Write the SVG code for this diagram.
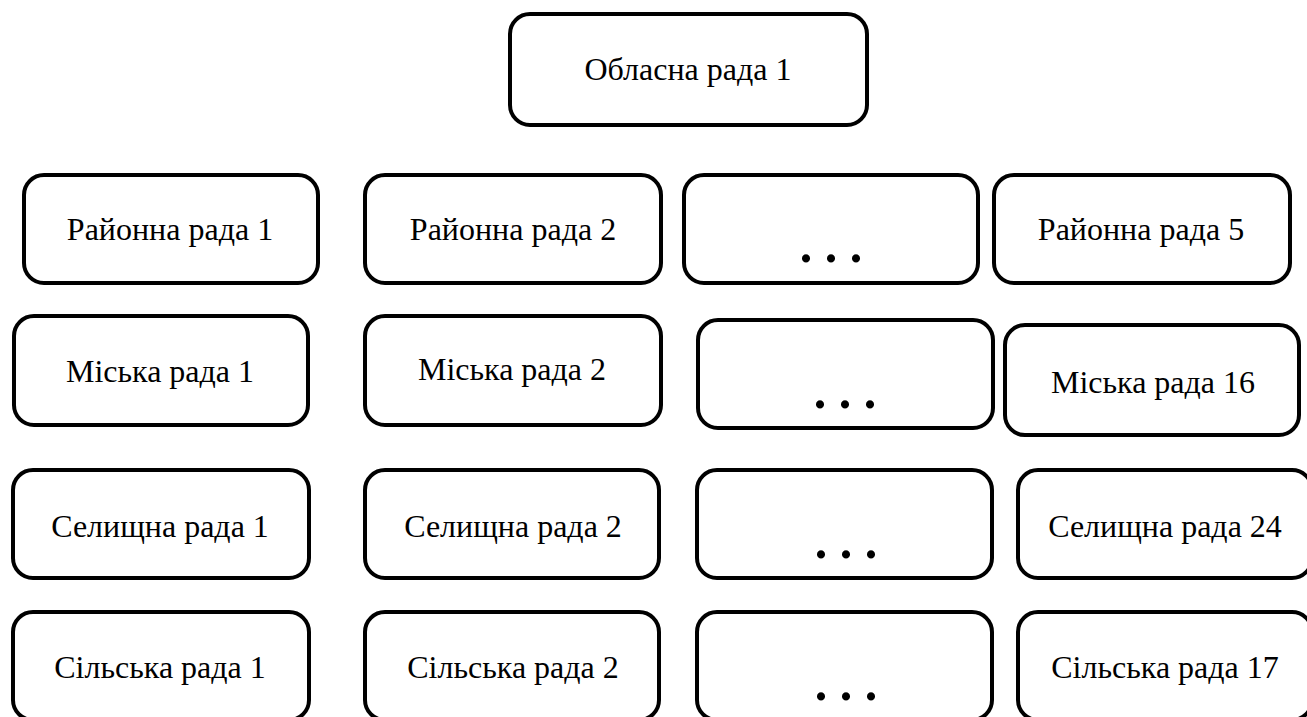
<svg xmlns="http://www.w3.org/2000/svg" width="1307" height="717" viewBox="0 0 1307 717">
<style>
.box{fill:#fff;stroke:#000;stroke-width:4}
.lbl{font-family:"Liberation Serif","Times New Roman",serif;font-size:32px;fill:#000;text-anchor:middle}
.dots{font-family:"Liberation Serif","Times New Roman",serif;font-size:50px;font-weight:bold;fill:#000;text-anchor:middle}
</style>
<rect width="1307" height="717" fill="#fff"/>
<g id="connectors"></g>
<g id="oblasna"><rect class="box" x="510" y="14" width="357" height="111" rx="20"/><text class="lbl" x="688" y="80">Обласна рада 1</text></g>

<g id="raion1"><rect class="box" x="24" y="175" width="294" height="108" rx="20"/><text class="lbl" x="170" y="240">Районна рада 1</text></g>
<g id="raion2"><rect class="box" x="365" y="175" width="296" height="108" rx="20"/><text class="lbl" x="513" y="240">Районна рада 2</text></g>
<g id="raion-etc"><rect class="box" x="684" y="175" width="294" height="108" rx="20"/><text class="dots" x="831" y="262">. . .</text></g>
<g id="raion5"><rect class="box" x="994" y="175" width="296" height="108" rx="20"/><text class="lbl" x="1141" y="240">Районна рада 5</text></g>

<g id="misk1"><rect class="box" x="14" y="316" width="294" height="109" rx="20"/><text class="lbl" x="160" y="382">Міська рада 1</text></g>
<g id="misk2"><rect class="box" x="365" y="316" width="296" height="109" rx="20"/><text class="lbl" x="512" y="380">Міська рада 2</text></g>
<g id="misk-etc"><rect class="box" x="698" y="320" width="295" height="108" rx="20"/><text class="dots" x="845" y="408">. . .</text></g>
<g id="misk16"><rect class="box" x="1005" y="325" width="294" height="110" rx="20"/><text class="lbl" x="1153" y="393">Міська рада 16</text></g>

<g id="sel1"><rect class="box" x="13" y="470" width="296" height="108" rx="20"/><text class="lbl" x="160" y="537">Селищна рада 1</text></g>
<g id="sel2"><rect class="box" x="365" y="470" width="294" height="108" rx="20"/><text class="lbl" x="513" y="537">Селищна рада 2</text></g>
<g id="sel-etc"><rect class="box" x="697" y="470" width="295" height="108" rx="20"/><text class="dots" x="846" y="558">. . .</text></g>
<g id="sel24"><rect class="box" x="1018" y="470" width="294" height="108" rx="20"/><text class="lbl" x="1165" y="537">Селищна рада 24</text></g>

<g id="sil1"><rect class="box" x="13" y="612" width="296" height="108" rx="20"/><text class="lbl" x="160" y="678">Сільська рада 1</text></g>
<g id="sil2"><rect class="box" x="365" y="612" width="294" height="108" rx="20"/><text class="lbl" x="513" y="678">Сільська рада 2</text></g>
<g id="sil-etc"><rect class="box" x="697" y="612" width="295" height="108" rx="20"/><text class="dots" x="846" y="700">. . .</text></g>
<g id="sil17"><rect class="box" x="1018" y="612" width="294" height="108" rx="20"/><text class="lbl" x="1165" y="678">Сільська рада 17</text></g>
</svg>
